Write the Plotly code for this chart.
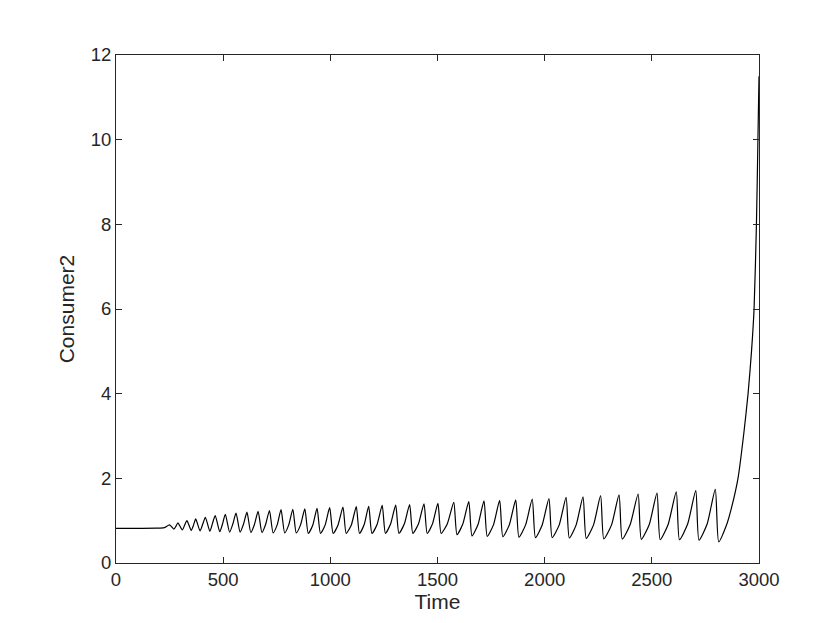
import plotly.graph_objects as go

_INK = "#262626"

# flat start before the oscillations begin
start_t = [0, 100, 190, 225]
start_v = [0.82, 0.82, 0.822, 0.835]

# oscillation peaks
peak_t = [250, 289, 331, 372, 417, 463, 510, 560, 611, 663,
          716, 770, 825, 881, 938, 997, 1059, 1121, 1179, 1242,
          1305, 1370, 1437, 1502, 1576, 1646, 1717, 1790, 1865, 1942,
          2020, 2100, 2179, 2261, 2347, 2436, 2524, 2614, 2705, 2796]
peak_v = [0.90, 0.95, 1.00, 1.04, 1.08, 1.12, 1.15, 1.18, 1.20, 1.22,
          1.24, 1.26, 1.27, 1.28, 1.29, 1.31, 1.32, 1.33, 1.34, 1.36,
          1.37, 1.38, 1.40, 1.41, 1.43, 1.45, 1.47, 1.48, 1.49, 1.51,
          1.52, 1.55, 1.56, 1.59, 1.61, 1.63, 1.65, 1.68, 1.71, 1.74]

# troughs right after each peak
trough_t = [270, 309, 351, 392, 438, 484, 530, 579, 629, 681,
            733, 787, 841, 897, 954, 1013, 1074, 1136, 1194, 1257,
            1320, 1385, 1452, 1517, 1591, 1661, 1732, 1805, 1880, 1957,
            2035, 2115, 2194, 2276, 2362, 2451, 2539, 2629, 2720, 2812]
trough_v = [0.80, 0.78, 0.77, 0.76, 0.75, 0.74, 0.73, 0.73, 0.72, 0.72,
            0.71, 0.71, 0.71, 0.70, 0.70, 0.70, 0.70, 0.70, 0.70, 0.70,
            0.70, 0.70, 0.70, 0.70, 0.67, 0.64, 0.63, 0.62, 0.61, 0.60,
            0.60, 0.59, 0.58, 0.57, 0.565, 0.56, 0.55, 0.55, 0.54, 0.50]

# one point on each slow rise between a trough and the next peak
rise_t = [280, 320, 362, 405, 450, 497, 545, 595, 646, 698,
          752, 806, 861, 918, 976, 1036, 1098, 1158, 1218, 1281,
          1345, 1411, 1477, 1546, 1618, 1689, 1761, 1835, 1911, 1988,
          2068, 2147, 2228, 2312, 2399, 2488, 2576, 2667, 2758]
rise_v = [0.87, 0.89, 0.90, 0.92, 0.93, 0.92, 0.92, 0.92, 0.91, 0.91,
          0.90, 0.90, 0.90, 0.89, 0.90, 0.90, 0.90, 0.91, 0.91, 0.92,
          0.92, 0.92, 0.93, 0.93, 0.92, 0.91, 0.90, 0.90, 0.90, 0.89,
          0.90, 0.90, 0.90, 0.90, 0.91, 0.91, 0.91, 0.92, 0.92]

# final blow-up after the last trough
end_t = [2848, 2871, 2902, 2930, 2949, 2965, 2977, 2988, 2995, 3000]
end_v = [0.89, 1.29, 2.0, 3.1, 4.0, 5.0, 6.0, 8.0, 10.0, 11.5]

x_ticks = [0, 500, 1000, 1500, 2000, 2500, 3000]
y_ticks = [0, 2, 4, 6, 8, 10, 12]

# stitch the pieces together in time order
t = list(start_t)
v = list(start_v)
for i in range(len(peak_t)):
    t += [peak_t[i], trough_t[i]]
    v += [peak_v[i], trough_v[i]]
    if i < len(rise_t):
        t.append(rise_t[i])
        v.append(rise_v[i])
t += end_t
v += end_v

fig = go.Figure()
fig.add_trace(go.Scatter(
    x=t, y=v, mode="lines",
    line=dict(color="black", width=1.2, shape="spline", smoothing=0.6),
    showlegend=False,
))

axis_common = dict(
    showgrid=False, zeroline=False,
    showline=True, linecolor=_INK, linewidth=1, mirror="ticks",
    ticks="inside", ticklen=6, tickcolor=_INK, tickwidth=1,
    tickfont=dict(family="Liberation Sans, Arial, sans-serif", size=18.5, color=_INK),
)

fig.update_layout(
    width=830, height=623,
    margin=dict(l=108, r=79, t=47, b=68),
    paper_bgcolor="white", plot_bgcolor="white",
    xaxis=dict(
        range=[0, 3000], tickvals=x_ticks,
        title=dict(text="Time", standoff=4,
                   font=dict(family="Liberation Sans, Arial, sans-serif", size=21, color=_INK)),
        **axis_common,
    ),
    yaxis=dict(
        range=[0, 12], tickvals=y_ticks,
        title=dict(text="Consumer2", standoff=10,
                   font=dict(family="Liberation Sans, Arial, sans-serif", size=21, color=_INK)),
        **axis_common,
    ),
)

fig.write_html("out.html")
